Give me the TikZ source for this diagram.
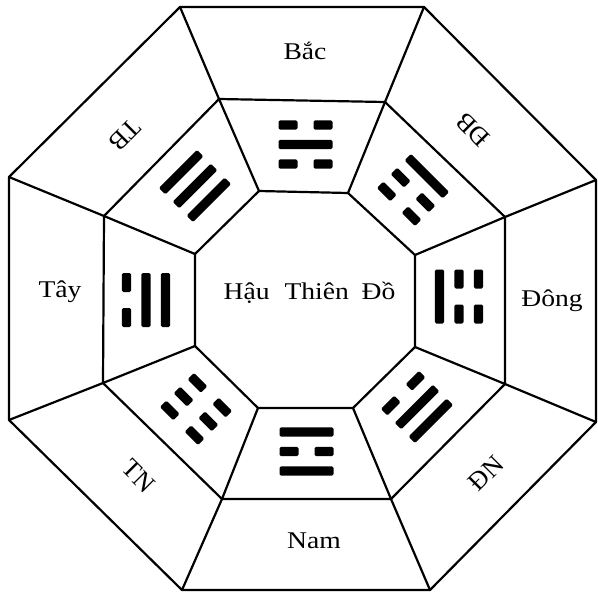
\documentclass[tikz,border=0pt]{standalone}
\usepackage{fontspec}
\setmainfont{Liberation Serif}
\usepackage{graphicx}
\newcommand\trigline[2]{%
  \ifnum#1=1
    \fill[rounded corners=1.5] (-27,#2-4.6) rectangle (27,#2+4.6);
  \else
    \fill[rounded corners=1.5] (-27,#2-4.6) rectangle (-8,#2+4.6);
    \fill[rounded corners=1.5] (8,#2-4.6) rectangle (27,#2+4.6);
  \fi}
\newcommand\trig[5]{%
  \begin{scope}[shift={#1},rotate=#2]
    \trigline{#3}{19.5}
    \trigline{#4}{0}
    \trigline{#5}{-19.5}
  \end{scope}}
\tikzset{
  frame/.style={line width=2.2pt, line join=round, black},
  lab/.style={font=\fontsize{24}{28}\selectfont, inner sep=0pt},
  dlab/.style={font=\fontsize{26}{30}\selectfont, inner sep=0pt},
}
\begin{document}
\begin{tikzpicture}[x=1pt,y=1pt]
\fill[white] (0,0) rectangle (598,-595);
\useasboundingbox (0,0) rectangle (598,-595);
% outer octagon
\coordinate (O1) at (180,-7);
\coordinate (O2) at (424,-7);
\coordinate (O3) at (596,-180);
\coordinate (O4) at (596,-422);
\coordinate (O5) at (430,-590);
\coordinate (O6) at (182,-590);
\coordinate (O7) at (9,-420);
\coordinate (O8) at (9,-177);
% middle octagon
\coordinate (M1) at (219,-99);
\coordinate (M2) at (385,-102);
\coordinate (M3) at (505,-217);
\coordinate (M4) at (505,-384);
\coordinate (M5) at (391,-499);
\coordinate (M6) at (222,-499);
\coordinate (M7) at (103,-383);
\coordinate (M8) at (104,-216);
% inner octagon
\coordinate (I1) at (259,-191);
\coordinate (I2) at (348,-193);
\coordinate (I3) at (415,-255);
\coordinate (I4) at (415,-347);
\coordinate (I5) at (353,-408);
\coordinate (I6) at (258,-408);
\coordinate (I7) at (195,-346);
\coordinate (I8) at (195,-254);
\draw[frame] (O1)--(O2)--(O3)--(O4)--(O5)--(O6)--(O7)--(O8)--cycle;
\draw[frame] (M1)--(M2)--(M3)--(M4)--(M5)--(M6)--(M7)--(M8)--cycle;
\draw[frame] (I1)--(I2)--(I3)--(I4)--(I5)--(I6)--(I7)--(I8)--cycle;
\foreach \k in {1,...,8}{
  \draw[frame] (O\k)--(M\k)--(I\k);
}
% trigrams (top line = outer side)
\trig{(305.5,-144.5)}{0}{0}{1}{0}     % Kan, North
\trig{(306.5,-451.5)}{180}{1}{0}{1}   % Li, South
\trig{(459,-296.5)}{-90}{0}{0}{1}     % Zhen, East
\trig{(146,-300)}{90}{0}{1}{1}        % Dui, West
\trig{(195,-186)}{45}{1}{1}{1}        % Qian, NW
\trig{(413,-190)}{-45}{1}{0}{0}       % Gen, NE
\trig{(196,-409)}{135}{0}{0}{0}       % Kun, SW
\trig{(417,-407)}{-135}{1}{1}{0}      % Xun, SE
% labels
\node[lab,anchor=base] (bac) at (305,-59) {\scalebox{1.15}[1]{Bắc}};
\node[lab,anchor=base] (nam) at (314,-548) {\scalebox{1.15}[1]{Nam}};
\node[lab,anchor=base] (tay) at (60,-297) {\scalebox{1.15}[1]{Tây}};
\node[lab,anchor=base] (dong) at (552,-306) {\scalebox{1.15}[1]{Đông}};
\node[lab,anchor=base] (title) at (309.5,-299) {\scalebox{1.15}[1]{Hậu\hspace{13pt}Thiên\hspace{11pt}Đồ}};
\node[dlab,rotate=-135] (tb) at (125,-135) {TB};
\node[dlab,rotate=135] (db) at (473,-130) {ĐB};
\node[dlab,rotate=-45] (tn) at (139,-476) {TN};
\node[dlab,rotate=45] (dn) at (486,-473) {ĐN};
\end{tikzpicture}
\end{document}
